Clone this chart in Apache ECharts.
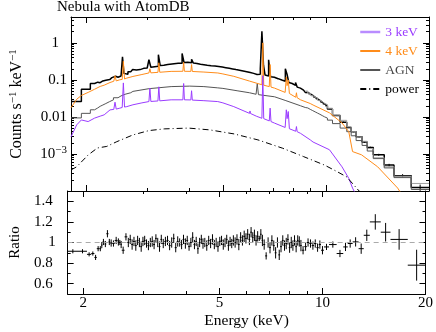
<!DOCTYPE html>
<html>
<head>
<meta charset="utf-8">
<script src="https://cdn.jsdelivr.net/npm/echarts@6/dist/echarts.min.js"></script>
<style>html,body{margin:0;padding:0;background:#fff}#chart{width:436px;height:332px}</style>
</head>
<body>
<div id="chart"></div>
<script>
var L = Math.log10;
var FONT = 'Liberation Serif';

// axis ranges
var xMin = 1.8, xMax = 20;
var yMin = 1e-4, yMax = 5;
var rMin = 0.5, rMax = 1.5;

// ticks and labels
var xMajor = [2, 5, 10, 20];
var xMinor = [3, 4, 6, 7, 8, 9];
var yMajor = [1e-4, 1e-3, 0.01, 0.1, 1];
var yLabelVals = [1e-3, 0.01, 0.1];
var yLabelText = ['10{sup|−3}', '0.01', '0.1'];
var rMajor = [0.6, 0.8, 1.0, 1.2, 1.4];
var rMinor = [0.5, 0.7, 0.9, 1.1, 1.3, 1.5];
var rLabelVals = [0.6, 0.8, 1.2, 1.4];

// data bins (keV edges) with counts, ratio and ratio error
var edges = [1.80, 1.93, 2.05, 2.11, 2.155, 2.19, 2.23, 2.255, 2.275, 2.305, 2.335, 2.37, 2.395, 2.43, 2.47, 2.52, 2.545, 2.57, 2.59, 2.64, 2.69,
  2.725, 2.76, 2.795, 2.83, 2.865, 2.9, 2.935, 2.97, 3.005, 3.04, 3.08, 3.12, 3.16, 3.2, 3.24, 3.28, 3.32, 3.36, 3.4, 3.45, 3.5,
  3.55, 3.6, 3.65, 3.7, 3.75, 3.8, 3.85, 3.9, 3.95, 4.0, 4.05, 4.1, 4.15, 4.2, 4.25, 4.3, 4.35, 4.4, 4.45, 4.5,
  4.56, 4.62, 4.68, 4.74, 4.8, 4.86, 4.92, 4.98, 5.04, 5.1, 5.16, 5.22, 5.28, 5.34, 5.4, 5.46, 5.52,
  5.59, 5.66, 5.73, 5.8, 5.87, 5.94, 6.01, 6.08, 6.15, 6.22, 6.29, 6.36, 6.43, 6.5, 6.57, 6.64, 6.71,
  6.8, 6.89, 6.98, 7.07, 7.16, 7.25, 7.34, 7.43, 7.52, 7.61, 7.7, 7.79, 7.88, 7.97, 8.06, 8.15, 8.24, 8.33, 8.42, 8.51, 8.6, 8.7,
  8.85, 9.0, 9.15, 9.3, 9.45, 9.6, 9.75, 9.9, 10.1,
  10.45, 11.0, 11.5, 11.85, 12.25, 12.75, 13.2, 13.75, 14.8, 15.8, 17.75, 20.0];

var counts = [0.026, 0.056, 0.080, 0.087, 0.084, 0.094, 0.096, 0.098, 0.103, 0.102, 0.115, 0.108, 0.125, 0.118, 0.128, 0.135, 0.42, 0.15, 0.142, 0.165,
  0.18, 0.19, 0.185, 0.195, 0.19, 0.2, 0.205, 0.198, 0.21, 0.215, 0.35, 0.22, 0.228, 0.232, 0.235, 0.48, 0.245, 0.25, 0.255, 0.26, 0.265,
  0.27, 0.275, 0.278, 0.28, 0.276, 0.282, 0.52, 0.295, 0.298, 0.296, 0.29, 0.36, 0.285, 0.278, 0.27, 0.265, 0.26, 0.258, 0.255, 0.25,
  0.247, 0.243, 0.24, 0.237, 0.233, 0.23, 0.226, 0.222, 0.218, 0.214, 0.21, 0.206, 0.202, 0.198, 0.205, 0.19, 0.186,
  0.182, 0.178, 0.174, 0.17, 0.166, 0.162, 0.158, 0.162, 0.15, 0.146, 0.14, 0.15, 0.142, 0.2, 2.05, 0.25, 0.135,
  0.128, 0.35, 0.122, 0.118, 0.113, 0.108, 0.103, 0.099, 0.095, 0.092, 0.2, 0.14, 0.085, 0.08, 0.076, 0.071, 0.085, 0.064, 0.06, 0.056, 0.053, 0.05,
  0.046, 0.042, 0.038, 0.034, 0.031, 0.028, 0.025, 0.0225, 0.02,
  0.0165, 0.011, 0.0072, 0.0052, 0.004, 0.0029, 0.0021, 0.0015, 9.5e-4, 5e-4, 2.6e-4, 1.25e-4];

var ratio = [0.915, 0.915, 0.885, 0.893, 0.855, 0.94, 0.94, 0.975, 1.005, 0.985, 1.085, 1.005, 0.995, 0.99, 1.02, 1.005, 1.0, 0.98, 0.925, 1.055,
  1.0, 1.03, 0.98, 1.01, 0.97, 1.02, 1.0, 0.96, 1.01, 1.02, 0.99, 0.97, 1.0, 1.01, 0.98, 1.04, 1.0, 0.96, 1.03, 0.99, 1.01,
  1.02, 0.97, 1.0, 1.04, 0.95, 1.01, 1.0, 0.98, 1.03, 0.99, 1.02, 0.96, 1.0, 1.05, 0.98, 1.01, 0.94, 1.0, 1.03, 0.99,
  1.0, 0.97, 1.02, 0.99, 1.03, 0.98, 1.0, 0.96, 1.01, 1.02, 0.98, 1.0, 1.03, 0.97, 1.01, 0.99, 1.02,
  1.0, 1.03, 0.98, 1.05, 1.02, 1.06, 1.04, 1.08, 1.03, 1.1, 1.05, 1.07, 1.02, 1.06, 1.04, 1.08, 1.02,
  0.98, 0.87, 1.0, 0.95, 1.02, 0.97, 0.9, 1.0, 0.88, 0.96, 1.02, 0.97, 0.99, 1.03, 0.95, 1.0, 0.97, 1.02, 0.96, 1.02, 1.01, 0.97,
  0.925, 0.96, 1.0, 0.99, 0.97, 0.99, 0.95, 0.98, 0.925,
  0.957, 0.98, 0.893, 0.957, 0.99, 1.006, 0.94, 1.07, 1.2, 1.1, 1.03, 0.78];

var ratioErr = [0.02, 0.02, 0.02, 0.02, 0.025, 0.025, 0.025, 0.03, 0.03, 0.03, 0.035, 0.03, 0.035, 0.03, 0.035, 0.035, 0.025, 0.035, 0.035, 0.035,
  0.045, 0.045, 0.05, 0.045, 0.05, 0.045, 0.045, 0.05, 0.045, 0.045, 0.04, 0.045, 0.045, 0.05, 0.045, 0.04, 0.045, 0.05, 0.045, 0.045, 0.045,
  0.045, 0.045, 0.05, 0.045, 0.045, 0.05, 0.04, 0.045, 0.045, 0.05, 0.045, 0.04, 0.045, 0.05, 0.045, 0.045, 0.05, 0.045, 0.045, 0.05,
  0.045, 0.05, 0.045, 0.045, 0.05, 0.045, 0.045, 0.05, 0.045, 0.045, 0.05, 0.045, 0.045, 0.05, 0.045, 0.045, 0.05,
  0.05, 0.05, 0.055, 0.05, 0.05, 0.055, 0.05, 0.05, 0.055, 0.05, 0.05, 0.055, 0.05, 0.05, 0.025, 0.05, 0.055,
  0.05, 0.035, 0.05, 0.055, 0.05, 0.05, 0.055, 0.05, 0.05, 0.055, 0.05, 0.05, 0.055, 0.05, 0.05, 0.055, 0.05, 0.05, 0.055, 0.05, 0.05, 0.055,
  0.04, 0.04, 0.04, 0.04, 0.04, 0.04, 0.04, 0.04, 0.04,
  0.03, 0.03, 0.035, 0.04, 0.04, 0.045, 0.05, 0.055, 0.075, 0.09, 0.1, 0.15];

// thermal models (smooth, with lines)
var modelE = [1.80, 1.87, 1.93, 1.95, 2.02, 2.11, 2.19, 2.25, 2.34, 2.40, 2.42, 2.44, 2.50, 2.54, 2.56, 2.58, 2.62, 2.73, 2.90, 3.04,
  3.06, 3.08, 3.23, 3.25, 3.27, 3.53, 3.82, 3.84, 3.86, 4.03, 4.05, 4.07, 4.40, 4.83, 5.00, 5.38, 5.40, 5.42, 5.98, 6.00,
  6.02, 6.26, 6.50, 6.54, 6.58, 6.83, 6.87, 6.91, 7.08, 7.60, 7.66, 7.70, 7.76, 7.82, 8.16, 8.20, 8.24, 8.43, 9.00, 9.17,
  10.24, 11.14, 11.66, 11.96, 12.7, 14.16, 16.2, 17.0];
var kev4 = [0.0177, 0.030, 0.038, 0.040, 0.046, 0.056, 0.0667, 0.072, 0.085, 0.092, 0.13, 0.094, 0.101, 0.103, 0.32, 0.106, 0.112, 0.124, 0.14, 0.154,
  0.2, 0.155, 0.16, 0.29, 0.161, 0.17, 0.171, 0.3, 0.171, 0.17, 0.26, 0.169, 0.163, 0.154, 0.145, 0.125, 0.135, 0.124, 0.093, 0.105,
  0.092, 0.082, 0.074, 1.0, 0.072, 0.066, 0.26, 0.064, 0.060, 0.046, 0.12, 0.07, 0.10, 0.043, 0.034, 0.045, 0.033, 0.029, 0.023, 0.021,
  0.0129, 0.0069, 0.0040, 0.00116, 9.5e-4, 4.5e-4, 1.2e-4, 6e-5];
var kev3 = [0.0029, 0.0061, 0.0083, 0.0080, 0.0075, 0.0093, 0.0105, 0.0114, 0.0155, 0.016, 0.025, 0.0163, 0.0173, 0.018, 0.083, 0.0185, 0.019, 0.0213, 0.024, 0.026,
  0.06, 0.0262, 0.027, 0.065, 0.0272, 0.029, 0.029, 0.08, 0.029, 0.0288, 0.051, 0.0285, 0.0275, 0.026, 0.024, 0.019, 0.021, 0.0188, 0.0125, 0.0145,
  0.0124, 0.0105, 0.0092, 0.13, 0.009, 0.0078, 0.0173, 0.0075, 0.0068, 0.0052, 0.0156, 0.009, 0.014, 0.0048, 0.0041, 0.0055, 0.004, 0.0036, 0.0024, 0.0021,
  0.0013, 4.5e-4, 2.2e-4, 1.2e-4, 4e-5, 1e-5, 3e-6, 1e-6];

// AGN: binned at low and high energy, fine in between
var agnLoEdges = [1.80, 1.93, 2.05, 2.11, 2.155, 2.19, 2.23, 2.275, 2.335, 2.395, 2.47, 2.52, 2.59, 2.69];
var agnLo = [0.0094, 0.0125, 0.0156, 0.0175, 0.0194, 0.021, 0.023, 0.026, 0.029, 0.033, 0.037, 0.041, 0.045];
var agnMidE = [2.69, 2.73, 3.04, 3.53, 4.0, 4.4, 4.83, 5.0, 5.5, 5.98, 6.25, 6.30, 6.35, 7.08, 7.6, 8.43, 8.7];
var agnMid = [0.047, 0.049, 0.058, 0.066, 0.068, 0.066, 0.061, 0.059, 0.051, 0.045, 0.041, 0.08, 0.040, 0.035, 0.028, 0.020, 0.018];
var hiEdges = [8.7, 8.85, 9.0, 9.15, 9.3, 9.45, 9.6, 9.75, 9.9, 10.1, 10.45, 11.0, 11.5, 11.85, 12.25, 12.75, 13.2, 13.75, 14.8, 15.8, 17.75, 20.0];
var agnHi = [0.0175, 0.016, 0.0148, 0.0137, 0.0127, 0.0118, 0.0109, 0.0101, 0.0093, 0.0082, 0.0066, 0.0050, 0.0040, 0.0031, 0.0023, 0.0017, 0.0012, 7.5e-4, 4.2e-4, 2.3e-4, 1.1e-4];
var totHi = [0.05, 0.044, 0.038, 0.034, 0.032, 0.028, 0.026, 0.023, 0.0216, 0.0172, 0.0112, 0.0081, 0.0054, 0.0040, 0.0029, 0.0022, 0.0014, 7.9e-4, 4.5e-4, 2.5e-4, 1.6e-4];

// power law
var powE = [1.80, 1.87, 2.02, 2.15, 2.29, 2.45, 2.73, 3.04, 3.37, 3.97, 4.58, 5.39, 6.33, 7.47, 8.6, 9.91, 10.8, 11.5, 12.5, 13.5];
var power = [3.7e-4, 4.5e-4, 9.4e-4, 1.45e-3, 1.6e-3, 2.15e-3, 3.27e-3, 4.28e-3, 4.76e-3, 5.0e-3, 4.47e-3, 3.48e-3, 2.4e-3, 1.43e-3, 8.5e-4, 5.0e-4, 3.3e-4, 2.4e-4, 1.0e-4, 5e-5];

var C3 = '#9a3cff', C4 = '#ff8c1a', CAGN = '#555555';

function hist(ed, vals) {
  var pts = [];
  for (var i = 0; i < vals.length; i++) {
    pts.push([L(ed[i]), L(vals[i])]);
    pts.push([L(ed[i + 1]), L(vals[i])]);
  }
  return pts;
}
function pairs(xs, ys) {
  return xs.map(function (x, i) { return [L(x), L(ys[i])]; });
}
function pick(vals, texts, v) {
  for (var i = 0; i < vals.length; i++) {
    if (Math.abs(L(vals[i]) - v) < 1e-6) return texts[i];
  }
  return '';
}

var yMinor = [];
for (var n = -4; n <= 0; n++) {
  for (var k = 2; k <= 9; k++) {
    var v = k * Math.pow(10, n);
    if (v <= yMax) yMinor.push(v);
  }
}

var sup = { fontSize: 11, fontFamily: FONT, color: '#000', verticalAlign: 'bottom', padding: [0, 0, 7, 0] };
var labelFont = { fontFamily: FONT, fontSize: 15, color: '#000' };

function xAx(grid, pos, vals, len, line, label) {
  return {
    type: 'value', gridIndex: grid, position: pos, min: L(xMin), max: L(xMax),
    axisLine: { show: line, onZero: false, lineStyle: { color: '#000', width: 1 } },
    axisTick: { show: true, inside: true, length: len, customValues: vals.map(L), lineStyle: { color: '#000', width: 1 } },
    axisLabel: label || { show: false },
    splitLine: { show: false }
  };
}
function yAx(grid, pos, vals, len, line, isLog, extra) {
  var a = {
    type: 'value', gridIndex: grid, position: pos,
    min: isLog ? L(yMin) : rMin, max: isLog ? L(yMax) : rMax,
    axisLine: { show: line, onZero: false, lineStyle: { color: '#000', width: 1 } },
    axisTick: { show: true, inside: true, length: len, customValues: isLog ? vals.map(L) : vals, lineStyle: { color: '#000', width: 1 } },
    axisLabel: { show: false },
    splitLine: { show: false }
  };
  return Object.assign(a, extra || {});
}
function lbl(values, margin, formatter, rich) {
  return Object.assign({ show: true, customValues: values, margin: margin, formatter: formatter, rich: rich }, labelFont);
}

var xAxes = [
  xAx(0, 'bottom', xMajor, 6, true),
  xAx(0, 'top', xMajor, 6, true),
  xAx(0, 'bottom', xMinor, 3, false),
  xAx(0, 'top', xMinor, 3, false),
  xAx(1, 'bottom', xMajor, 6, true, lbl(xMajor.map(L), 2, function (v) { return String(Math.round(Math.pow(10, v))); })),
  xAx(1, 'top', xMajor, 6, true),
  xAx(1, 'bottom', xMinor, 3, false),
  xAx(1, 'top', xMinor, 3, false)
];
xAxes[4].name = 'Energy (keV)';
xAxes[4].nameLocation = 'middle';
xAxes[4].nameGap = 19;
xAxes[4].nameTextStyle = { fontFamily: FONT, fontSize: 15.5, color: '#000' };

var yAxes = [
  yAx(0, 'left', yMajor, 6, true, true, {
    name: 'Counts s{sup|−1} keV{sup|−1}', nameLocation: 'middle', nameGap: 45,
    nameTextStyle: { fontFamily: FONT, fontSize: 16, color: '#000', rich: { sup: sup } },
    axisLabel: lbl(yLabelVals.map(L), 4, function (v) { return pick(yLabelVals, yLabelText, v); }, { sup: sup })
  }),
  yAx(0, 'right', yMajor, 6, true, true),
  yAx(0, 'left', yMinor, 3, false, true, {
    axisLabel: lbl([0], 12, function () { return '1'; })
  }),
  yAx(0, 'right', yMinor, 3, false, true),
  yAx(1, 'left', rMajor, 6, true, false, {
    name: 'Ratio', nameLocation: 'middle', nameGap: 44,
    nameTextStyle: { fontFamily: FONT, fontSize: 15, color: '#000' },
    axisLabel: lbl(rLabelVals, 15, function (v) { return String(v); })
  }),
  yAx(1, 'right', rMajor, 6, true, false),
  yAx(1, 'left', rMinor, 3, false, false, {
    axisLabel: lbl([1], 12, function () { return '1'; })
  }),
  yAx(1, 'right', rMinor, 3, false, false)
];

// error bars on the data (high energies) and ratio crosses
var dataErr = [];
var ratioPts = [];
for (var i = 0; i < counts.length; i++) {
  var lo = L(edges[i]), hi = L(edges[i + 1]);
  ratioPts.push([lo, hi, ratio[i], ratio[i] - ratioErr[i], ratio[i] + ratioErr[i]]);
  if (edges[i] >= 8.7) {
    var rel = ratioErr[i] / ratio[i];
    dataErr.push([lo, hi, L(counts[i]), L(counts[i] * (1 - rel)), L(counts[i] * (1 + rel))]);
  }
}

function renderCross(withH) {
  return function (params, api) {
    var xc = (api.value(0) + api.value(1)) / 2;
    var a = api.coord([api.value(0), api.value(2)]);
    var b = api.coord([api.value(1), api.value(2)]);
    var t = api.coord([xc, api.value(4)]);
    var d = api.coord([xc, api.value(3)]);
    var st = { stroke: '#000', lineWidth: 1 };
    var kids = [{ type: 'line', shape: { x1: t[0], y1: t[1], x2: d[0], y2: d[1] }, style: st }];
    if (withH) kids.push({ type: 'line', shape: { x1: a[0], y1: a[1], x2: b[0], y2: b[1] }, style: st });
    return { type: 'group', children: kids };
  };
}

var agnPts = hist(agnLoEdges, agnLo).concat(pairs(agnMidE, agnMid)).concat(hist(hiEdges, agnHi));

var chart = echarts.init(document.getElementById('chart'), null, { renderer: 'canvas' });
chart.setOption({
  animation: false,
  backgroundColor: '#fff',
  title: {
    text: 'Nebula with AtomDB', left: 57, top: 0, padding: 0,
    textStyle: { fontFamily: FONT, fontSize: 15, fontWeight: 'normal', color: '#000' }
  },
  legend: {
    orient: 'vertical', left: 354, top: 20, itemWidth: 20, itemHeight: 14, itemGap: 5,
    itemStyle: { opacity: 0 },
    textStyle: { fontFamily: FONT, fontSize: 13.5 },
    data: [
      { name: '3 keV', textStyle: { color: C3 }, lineStyle: { width: 2.5, color: '#b98cff' } },
      { name: '4 keV', textStyle: { color: C4 } },
      { name: 'AGN', textStyle: { color: '#444' } },
      { name: 'power', textStyle: { color: '#000' } }
    ]
  },
  grid: [
    { left: 57, width: 372, top: 17, height: 174 },
    { left: 57, width: 372, top: 191, height: 103 }
  ],
  xAxis: xAxes,
  yAxis: yAxes,
  series: [
    {
      type: 'line', xAxisIndex: 0, yAxisIndex: 0, data: hist(edges, counts),
      symbol: 'none', lineStyle: { color: '#000', width: 1.5 }, z: 2
    },
    {
      type: 'custom', xAxisIndex: 0, yAxisIndex: 0, data: dataErr,
      renderItem: renderCross(false), z: 2
    },
    {
      type: 'line', xAxisIndex: 0, yAxisIndex: 0, data: hist(hiEdges, totHi),
      symbol: 'none', lineStyle: { color: '#a0a0a0', width: 1 }, z: 3
    },
    {
      name: 'AGN', type: 'line', xAxisIndex: 0, yAxisIndex: 0, data: agnPts,
      symbol: 'none', itemStyle: { color: CAGN }, lineStyle: { color: CAGN, width: 1 }, z: 4
    },
    {
      name: '4 keV', type: 'line', xAxisIndex: 0, yAxisIndex: 0, data: pairs(modelE, kev4),
      symbol: 'none', itemStyle: { color: C4 }, lineStyle: { color: C4, width: 1 }, z: 5
    },
    {
      name: '3 keV', type: 'line', xAxisIndex: 0, yAxisIndex: 0, data: pairs(modelE, kev3),
      symbol: 'none', itemStyle: { color: C3 }, lineStyle: { color: C3, width: 1 }, z: 5
    },
    {
      name: 'power', type: 'line', xAxisIndex: 0, yAxisIndex: 0, data: pairs(powE, power),
      symbol: 'none', itemStyle: { color: '#000' }, lineStyle: { color: '#000', width: 1, type: [6, 3, 1, 3] }, z: 5
    },
    {
      type: 'custom', xAxisIndex: 4, yAxisIndex: 4, data: ratioPts,
      renderItem: renderCross(true), z: 3,
      markLine: {
        silent: true, symbol: 'none', label: { show: false },
        lineStyle: { color: '#aaaaaa', type: [5, 4], width: 1 },
        data: [{ yAxis: 1 }]
      }
    }
  ]
});
</script>
</body>
</html>
